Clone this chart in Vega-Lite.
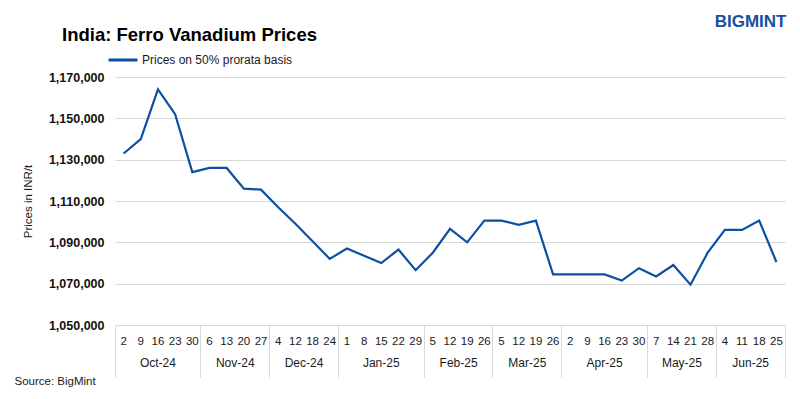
{
  "$schema": "https://vega.github.io/schema/vega-lite/v6.json",
  "width": 670,
  "height": 248,
  "autosize": {"type": "none"},
  "padding": {"left": 115, "top": 77, "right": 15, "bottom": 74},
  "background": "white",
  "config": {
    "font": "Liberation Sans",
    "view": {"stroke": null},
    "axis": {"labelFont": "Liberation Sans", "titleFont": "Liberation Sans"}
  },
  "title": {
    "text": "India: Ferro Vanadium Prices",
    "anchor": "start",
    "frame": "group",
    "fontSize": 18.5,
    "fontWeight": "bold",
    "color": "#000000",
    "dx": -53,
    "dy": 84,
    "baseline": "alphabetic",
    "offset": 37
  },
  "data": {
    "values": [
      {"date": "2024-10-02", "price": 1133000},
      {"date": "2024-10-09", "price": 1140000},
      {"date": "2024-10-16", "price": 1164000},
      {"date": "2024-10-23", "price": 1152000},
      {"date": "2024-10-30", "price": 1124000},
      {"date": "2024-11-06", "price": 1126000},
      {"date": "2024-11-13", "price": 1126000},
      {"date": "2024-11-20", "price": 1116000},
      {"date": "2024-11-27", "price": 1115500},
      {"date": "2024-12-04", "price": 1107000},
      {"date": "2024-12-12", "price": 1099000},
      {"date": "2024-12-18", "price": 1090500},
      {"date": "2024-12-24", "price": 1082000},
      {"date": "2025-01-01", "price": 1087000},
      {"date": "2025-01-08", "price": 1083500},
      {"date": "2025-01-15", "price": 1080000},
      {"date": "2025-01-22", "price": 1086500},
      {"date": "2025-01-29", "price": 1076500},
      {"date": "2025-02-05", "price": 1085000},
      {"date": "2025-02-12", "price": 1096500},
      {"date": "2025-02-19", "price": 1090000},
      {"date": "2025-02-26", "price": 1100500},
      {"date": "2025-03-05", "price": 1100500},
      {"date": "2025-03-12", "price": 1098500},
      {"date": "2025-03-19", "price": 1100500},
      {"date": "2025-03-26", "price": 1074500},
      {"date": "2025-04-02", "price": 1074500},
      {"date": "2025-04-09", "price": 1074500},
      {"date": "2025-04-16", "price": 1074500},
      {"date": "2025-04-23", "price": 1071500},
      {"date": "2025-04-30", "price": 1077500},
      {"date": "2025-05-07", "price": 1073500},
      {"date": "2025-05-14", "price": 1079000},
      {"date": "2025-05-21", "price": 1069500},
      {"date": "2025-05-28", "price": 1085000},
      {"date": "2025-06-04", "price": 1096000},
      {"date": "2025-06-11", "price": 1096000},
      {"date": "2025-06-18", "price": 1100500},
      {"date": "2025-06-25", "price": 1080500}
    ]
  },
  "resolve": {"axis": {"x": "independent"}},
  "layer": [
    {
      "mark": {"type": "line", "strokeWidth": 2.2},
      "encoding": {
        "x": {
          "field": "date",
          "type": "ordinal",
          "bandPosition": 0.5,
          "scale": {"type": "band", "paddingInner": 0, "paddingOuter": 0},
          "axis": {
            "orient": "bottom",
            "title": null,
            "labelExpr": "'' + toNumber(slice(datum.value, 8))",
            "labelAngle": 0,
            "labelFontSize": 11.5,
            "labelColor": "#1a1a1a",
            "labelPadding": 10,
            "ticks": false,
            "tickSize": 0,
            "domain": false,
            "grid": false
          }
        },
        "y": {
          "field": "price",
          "type": "quantitative",
          "scale": {"domain": [1050000, 1170000], "nice": false, "zero": false},
          "axis": {
            "title": "Prices in INR/t",
            "titleFontSize": 11.5,
            "titleFontWeight": "normal",
            "titleColor": "#1a1a1a",
            "titlePadding": 15,
            "values": [1050000, 1070000, 1090000, 1110000, 1130000, 1150000, 1170000],
            "format": ",d",
            "labelFontSize": 12.5,
            "labelFontWeight": "bold",
            "labelColor": "#111111",
            "labelPadding": 11,
            "ticks": false,
            "domain": false,
            "grid": true,
            "gridColor": "#d9d9d9",
            "gridWidth": 1
          }
        },
        "color": {
          "datum": "Prices on 50% prorata basis",
          "type": "nominal",
          "scale": {"range": ["#0d4fa3"]},
          "legend": {
            "title": null,
            "orient": "none",
            "legendX": -8,
            "legendY": -33,
            "symbolType": "stroke",
            "symbolSize": 841,
            "symbolStrokeWidth": 3,
            "labelFontSize": 12,
            "labelColor": "#1a1a1a",
            "labelOffset": 3
          }
        }
      }
    },
    {
      "mark": {"type": "point", "opacity": 0},
      "encoding": {
        "x": {
          "field": "date",
          "type": "ordinal",
          "axis": {
            "orient": "bottom",
            "title": null,
            "values": ["2024-10-16", "2024-11-20", "2024-12-18", "2025-01-15", "2025-02-19", "2025-03-19", "2025-04-16", "2025-05-21", "2025-06-18"],
            "labelExpr": "utcFormat(toDate(datum.value), '%b-%y')",
            "labelOffset": {
              "condition": {"test": "indexof(['2024-10-16', '2025-01-15', '2025-04-16'], datum.value) >= 0", "value": 0},
              "value": -8.59
            },
            "labelAngle": 0,
            "labelFontSize": 12,
            "labelColor": "#1a1a1a",
            "labelPadding": 32,
            "ticks": false,
            "tickSize": 0,
            "domain": false,
            "grid": false
          }
        }
      }
    },
    {
      "mark": {"type": "point", "opacity": 0},
      "encoding": {
        "x": {
          "field": "date",
          "type": "ordinal",
          "axis": {
            "orient": "bottom",
            "values": ["2024-10-02", "2024-11-06", "2024-12-04", "2025-01-01", "2025-02-05", "2025-03-05", "2025-04-02", "2025-05-07", "2025-06-04"],
            "bandPosition": 0,
            "labels": false,
            "ticks": true,
            "tickSize": 52,
            "tickColor": "#d9d9d9",
            "tickWidth": 1,
            "domain": false,
            "grid": false,
            "title": "Source: BigMint",
            "titleX": -101,
            "titleY": 56,
            "titleAlign": "left",
            "titleBaseline": "middle",
            "titleAngle": 0,
            "titleFontSize": 11.5,
            "titleFontWeight": "normal",
            "titleColor": "#1a1a1a"
          }
        }
      }
    },
    {
      "mark": {"type": "point", "opacity": 0},
      "encoding": {
        "x": {
          "field": "date",
          "type": "ordinal",
          "axis": {
            "orient": "bottom",
            "values": ["2025-06-25"],
            "bandPosition": 1,
            "labels": false,
            "ticks": true,
            "tickSize": 52,
            "tickColor": "#d9d9d9",
            "tickWidth": 1,
            "domain": false,
            "grid": false,
            "title": "BIGMINT",
            "titleX": 671,
            "titleY": -304,
            "titleAlign": "right",
            "titleBaseline": "middle",
            "titleAngle": 0,
            "titleFontSize": 17,
            "titleFontWeight": "bold",
            "titleColor": "#1a4fa0"
          }
        }
      }
    }
  ]
}
